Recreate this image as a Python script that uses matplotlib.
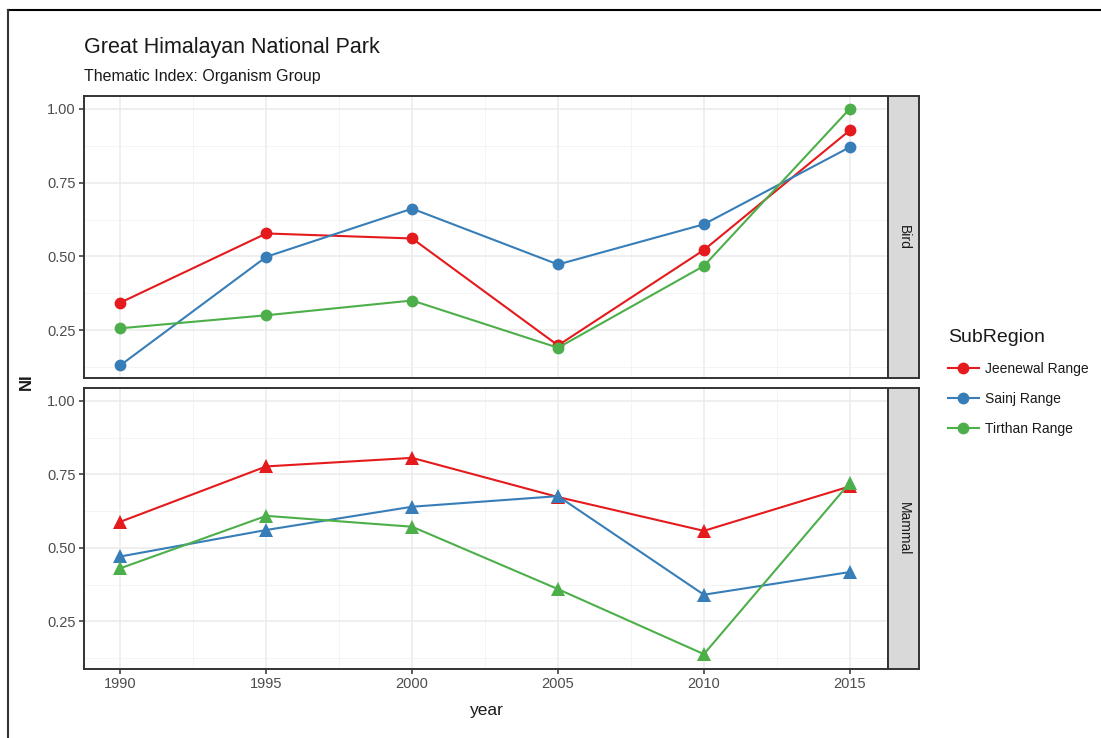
import matplotlib
matplotlib.use("Agg")
import matplotlib.pyplot as plt
from matplotlib.lines import Line2D

plt.rcParams['font.family'] = ['Liberation Sans', 'DejaVu Sans']

years = [1990, 1995, 2000, 2005, 2010, 2015]
series_names = ["Jeenewal Range", "Sainj Range", "Tirthan Range"]
colors = ["#E41A1C", "#377EB8", "#4DAF4A"]

bird_jeenewal = [0.344, 0.578, 0.561, 0.199, 0.522, 0.927]
bird_sainj = [0.132, 0.499, 0.662, 0.473, 0.609, 0.870]
bird_tirthan = [0.257, 0.301, 0.351, 0.191, 0.468, 1.000]

mammal_jeenewal = [0.589, 0.777, 0.806, 0.673, 0.558, 0.709]
mammal_sainj = [0.471, 0.561, 0.640, 0.676, 0.341, 0.418]
mammal_tirthan = [0.431, 0.609, 0.572, 0.360, 0.139, 0.721]

facets = ["Bird", "Mammal"]
facet_data = {
    "Bird": [bird_jeenewal, bird_sainj, bird_tirthan],
    "Mammal": [mammal_jeenewal, mammal_sainj, mammal_tirthan],
}
facet_markers = {"Bird": "o", "Mammal": "^"}

y_ticks = [0.25, 0.50, 0.75, 1.00]
y_minor = [0.125, 0.375, 0.625, 0.875]
x_ticks = years
x_minor = [1992.5, 1997.5, 2002.5, 2007.5, 2012.5]

W, H = 1101, 738
fig = plt.figure(figsize=(W / 100, H / 100), dpi=100)

def fx(px):
    return px / W

def fy(py):
    return 1 - py / H

panel_left, panel_right = 84, 888
strip_right = 919
panels = {"Bird": (96, 378), "Mammal": (388, 669)}

all_vals = [v for k in facets for s in facet_data[k] for v in s]
ymin, ymax = min(all_vals), max(all_vals)
pad = (ymax - ymin) * 0.05
xpad = (years[-1] - years[0]) * 0.05

grey20 = "#333333"
grey30 = "#4D4D4D"

for name in facets:
    top, bot = panels[name]
    ax = fig.add_axes([fx(panel_left), fy(bot), fx(panel_right - panel_left), (bot - top) / H])
    for vals, c in zip(facet_data[name], colors):
        ms = 8.5 if facet_markers[name] == "o" else 9.5
        ax.plot(years, vals, color=c, lw=1.5, marker=facet_markers[name], ms=ms,
                markeredgewidth=0, zorder=3)
    ax.set_xlim(years[0] - xpad, years[-1] + xpad * 1.05)
    ax.set_ylim(ymin - pad, ymax + pad)
    ax.set_yticks(y_ticks)
    ax.set_yticks(y_minor, minor=True)
    ax.set_xticks(x_ticks)
    ax.set_xticks(x_minor, minor=True)
    ax.set_yticklabels([f"{v:.2f}" for v in y_ticks])
    ax.grid(which="major", color="#EBEBEB", lw=1.1, zorder=0)
    ax.grid(which="minor", color="#F2F2F2", lw=0.6, zorder=0)
    ax.set_axisbelow(True)
    ax.tick_params(which="major", direction="out", length=3.5, width=1.1, color=grey20,
                   labelsize=10.5, labelcolor=grey30, pad=2.5)
    ax.tick_params(which="minor", length=0)
    for sp in ax.spines.values():
        sp.set_color(grey20)
        sp.set_linewidth(1.4)
    if name == "Bird":
        ax.tick_params(axis="x", which="major", length=0, labelbottom=False)
    # strip
    sax = fig.add_axes([fx(panel_right), fy(bot), fx(strip_right - panel_right), (bot - top) / H])
    sax.set_xticks([])
    sax.set_yticks([])
    sax.set_facecolor("#D9D9D9")
    for sp in sax.spines.values():
        sp.set_color(grey20)
        sp.set_linewidth(1.4)
    sax.text(0.5, 0.5, name, rotation=-90, ha="center", va="center", fontsize=10,
             color="#1A1A1A", transform=sax.transAxes)

# titles
fig.text(fx(84), fy(47), "Great Himalayan National Park", fontsize=15.5, color="#1A1A1A",
         ha="left", va="center")
fig.text(fx(84), fy(77), "Thematic Index: Organism Group", fontsize=11.5, color="#1A1A1A",
         ha="left", va="center")
# axis labels
fig.text(fx(26), fy(382), "NI", fontsize=12, fontweight="bold", color="#1A1A1A",
         rotation=90, ha="center", va="center")
fig.text(fx(487), fy(710), "year", fontsize=12.5, color="#1A1A1A", ha="center", va="center")

# legend
handles = [Line2D([], [], color=c, lw=1.5, marker="o", ms=8.5, markeredgewidth=0)
           for c in colors]
leg = fig.legend(handles, series_names, loc="upper left",
                 bbox_to_anchor=(fx(948), fy(329)), frameon=False, fontsize=10,
                 title="SubRegion", title_fontsize=14, handlelength=2.2,
                 handletextpad=0.5, labelspacing=1.15, borderpad=0, borderaxespad=0)
leg._legend_box.align = "left"
for t in leg.get_texts():
    t.set_color("#1A1A1A")
leg.get_title().set_color("#1A1A1A")

# figure border (top and left)
fig.add_artist(Line2D([fx(7.5), 1], [fy(9.5), fy(9.5)], color="black", lw=1.5,
                      transform=fig.transFigure))
fig.add_artist(Line2D([fx(7.5), fx(7.5)], [fy(9.5), 0], color="#333333", lw=1.5,
                      transform=fig.transFigure))

fig.savefig("out.png", dpi=100)
